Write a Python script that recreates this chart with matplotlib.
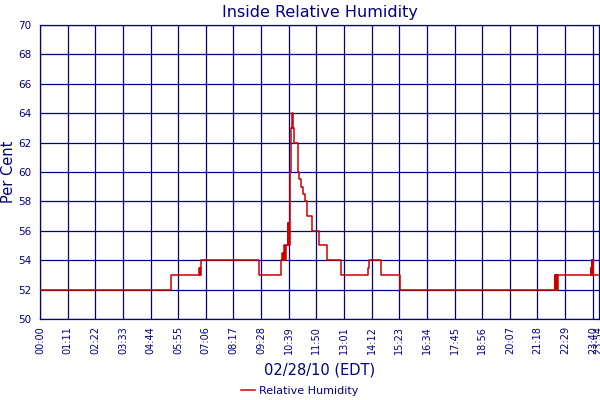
import matplotlib
matplotlib.use('Agg')
import matplotlib.pyplot as plt

navy = '#000080'

# minutes after midnight, humidity level (step after each time)
times = [0, 336, 409, 410, 411, 412, 413, 563, 620, 622, 624, 626, 630, 632,
         637, 638, 639, 640, 642, 645, 647, 651, 653, 662, 666, 670, 676, 680,
         686, 698, 700, 717, 738, 773, 843, 844, 876, 925, 1322, 1323, 1325,
         1326, 1328, 1329, 1331, 1415, 1416, 1418, 1419, 1420, 1421, 1434]
humidity = [52, 53, 53.5, 53, 53.5, 53, 54, 53, 54, 54.5, 54, 55, 54, 55,
            56.5, 55, 56.5, 55, 60, 63, 64, 63, 62, 60, 59.5, 59, 58.5, 58,
            57, 56.5, 56, 55, 54, 53, 53.5, 54, 53, 52, 53, 52, 53,
            52, 53, 52, 53, 53.5, 53, 54, 53, 54, 53, 53]

tick_pos = [0, 71, 142, 213, 284, 355, 426, 497, 568, 639, 710, 781, 852,
            923, 994, 1065, 1136, 1207, 1278, 1349, 1420, 1434]
tick_labels = ['00:00', '01:11', '02:22', '03:33', '04:44', '05:55', '07:06',
               '08:17', '09:28', '10:39', '11:50', '13:01', '14:12', '15:23',
               '16:34', '17:45', '18:56', '20:07', '21:18', '22:29', '23:40',
               '23:54']

fig = plt.figure(figsize=(6, 4), dpi=100)
ax = fig.add_axes([40 / 600, 1 - 319 / 400, 559 / 600, 294 / 400])

ax.step(times, humidity, where='post', color='#cc0000', lw=1.1,
        label='Relative Humidity', zorder=3)

ax.set_xlim(0, 1436)
ax.set_ylim(50, 70)
ax.set_yticks(range(50, 71, 2))
ax.set_xticks(tick_pos)
ax.set_xticklabels(tick_labels, rotation=90)
ax.tick_params(length=0, colors=navy, labelsize=7, pad=5)
ax.tick_params(axis='y', labelsize=7.5, pad=6)
ax.grid(True, color=navy, lw=0.9)
ax.get_xgridlines()[-1].set_visible(False)
for s in ax.spines.values():
    s.set_color(navy)
    s.set_linewidth(0.9)

ax.set_title('Inside Relative Humidity', color=navy, fontsize=11.5, pad=6)
ax.set_xlabel('02/28/10 (EDT)', color=navy, fontsize=10.5, labelpad=6)
ax.set_ylabel('Per Cent', color=navy, fontsize=10.5, labelpad=2)

leg = fig.legend(loc='lower center', bbox_to_anchor=(0.5, -0.015), frameon=False,
                 fontsize=8, handlelength=1.2, handletextpad=0.4)
for t in leg.get_texts():
    t.set_color(navy)

fig.savefig('out.png', dpi=100)
